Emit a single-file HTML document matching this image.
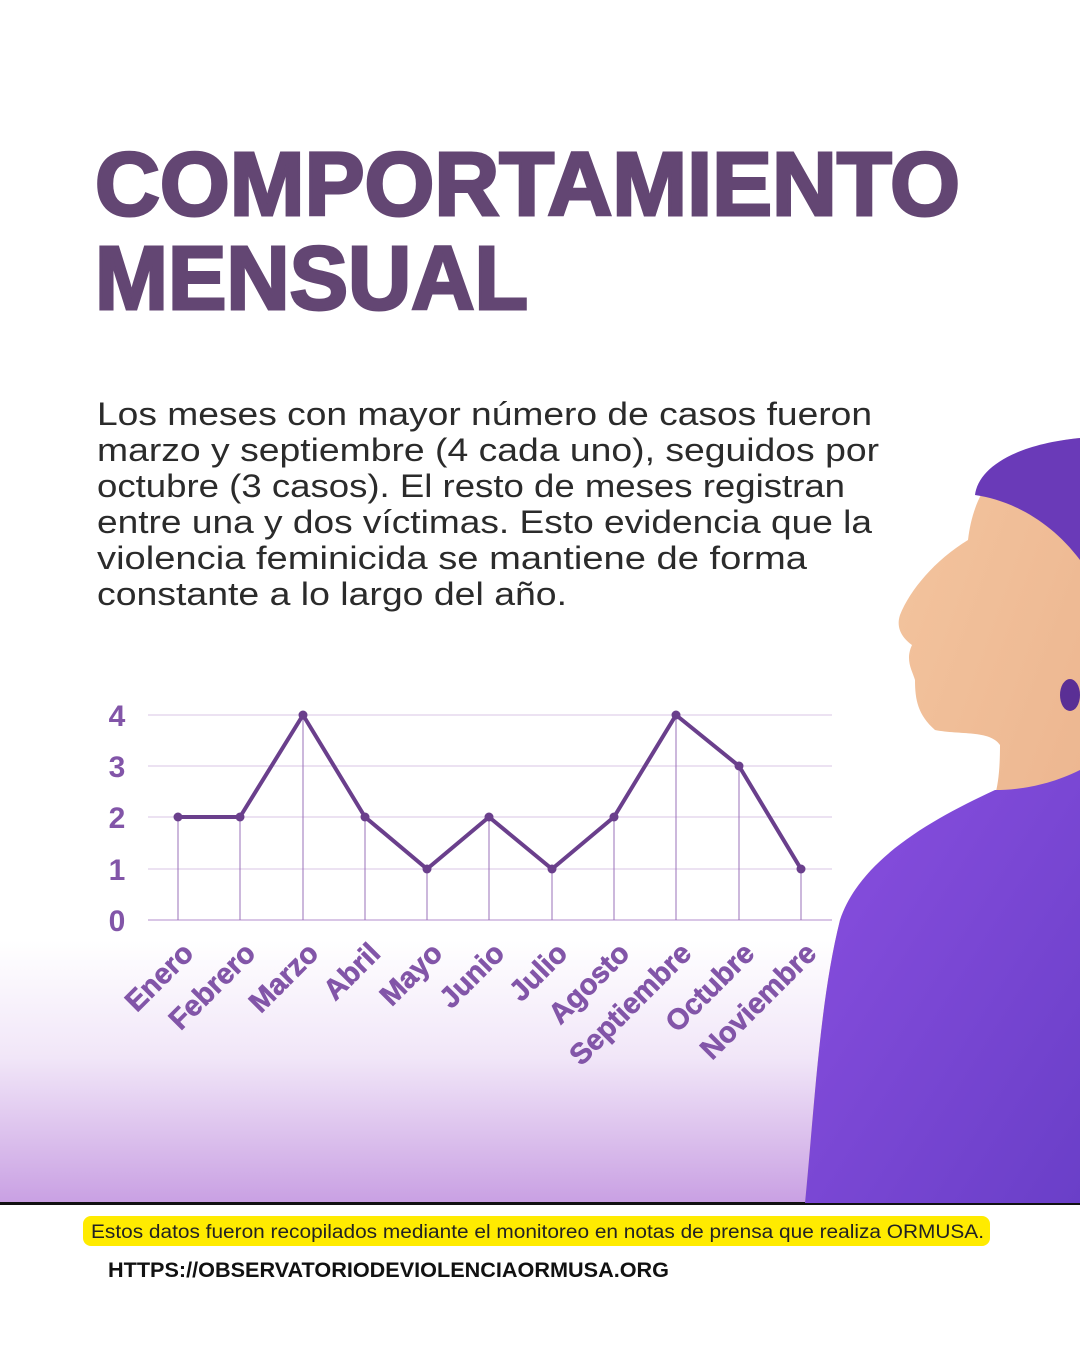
<!DOCTYPE html>
<html><head><meta charset="utf-8"><style>
html,body{margin:0;padding:0}
body{width:1080px;height:1350px;position:relative;overflow:hidden;background:#fff;font-family:"Liberation Sans",sans-serif}
.bg{position:absolute;left:0;top:940px;width:1080px;height:263px;background:linear-gradient(#fff 0%,#f1e6f8 45%,#c9a0e3 100%)}
.line{position:absolute;left:0;top:1202px;width:1080px;height:3px;background:#111}
.note{position:absolute;left:83px;top:1216px;width:907px;height:30px;background:#ffeb00;border-radius:8px}
svg{position:absolute;left:0;top:0}
</style></head><body>
<div class="bg"></div>
<div class="line"></div>
<div class="note"></div>
<svg width="1080" height="1350">
<defs>
<linearGradient id="sk" x1="0" y1="0" x2="1" y2="1"><stop offset="0" stop-color="#f6c9a3"/><stop offset="1" stop-color="#e9b08a"/></linearGradient>
<linearGradient id="pu" x1="0" y1="0" x2="1" y2="1"><stop offset="0" stop-color="#8a4fe0"/><stop offset="1" stop-color="#6a3fc8"/></linearGradient>
</defs>
<g font-family="Liberation Sans,sans-serif" font-weight="bold" fill="#634673" stroke="#634673" stroke-width="3">
<text x="95" y="215" font-size="90" textLength="865" lengthAdjust="spacingAndGlyphs">COMPORTAMIENTO</text>
<text x="95" y="309" font-size="90" textLength="433" lengthAdjust="spacingAndGlyphs">MENSUAL</text>
</g>
<g font-family="Liberation Sans,sans-serif" font-size="32" fill="#2b2b2b">
<text x="97" y="425" textLength="775" lengthAdjust="spacingAndGlyphs">Los meses con mayor número de casos fueron</text>
<text x="97" y="461" textLength="782" lengthAdjust="spacingAndGlyphs">marzo y septiembre (4 cada uno), seguidos por</text>
<text x="97" y="497" textLength="748" lengthAdjust="spacingAndGlyphs">octubre (3 casos). El resto de meses registran</text>
<text x="97" y="533" textLength="775" lengthAdjust="spacingAndGlyphs">entre una y dos víctimas. Esto evidencia que la</text>
<text x="97" y="569" textLength="710" lengthAdjust="spacingAndGlyphs">violencia feminicida se mantiene de forma</text>
<text x="97" y="605" textLength="470" lengthAdjust="spacingAndGlyphs">constante a lo largo del año.</text>
</g>
<!-- woman -->
<path d="M1080 438 C1010 445 975 480 968 540 C935 560 910 590 900 615 C895 630 905 640 912 645 C905 660 912 670 915 680 C915 700 918 715 935 730 C960 735 990 730 1000 745 C1000 770 998 785 995 795 C930 820 860 860 840 920 C820 1000 815 1100 805 1203 L1080 1203 Z" fill="url(#sk)"/>
<path d="M1080 438 C1010 445 978 470 975 495 C1010 500 1050 520 1080 560 Z" fill="#6a3ab8"/>
<path d="M995 790 C930 820 860 860 840 920 C820 1000 815 1100 805 1203 L1080 1203 L1080 770 C1050 785 1020 790 995 790 Z" fill="url(#pu)"/>
<ellipse cx="1070" cy="695" rx="10" ry="16" fill="#5a2f95"/>
<!-- chart -->
<g stroke="#e6d8ee" stroke-width="1.5">
<line x1="148" y1="715" x2="832" y2="715"/><line x1="148" y1="766" x2="832" y2="766"/>
<line x1="148" y1="817" x2="832" y2="817"/><line x1="148" y1="869" x2="832" y2="869"/>
</g>
<line x1="148" y1="920" x2="832" y2="920" stroke="#d9c6e6" stroke-width="2"/>
<g stroke="#9a70b8" stroke-width="1">
<line x1="178" y1="817" x2="178" y2="920"/><line x1="240" y1="817" x2="240" y2="920"/>
<line x1="303" y1="715" x2="303" y2="920"/><line x1="365" y1="817" x2="365" y2="920"/>
<line x1="427" y1="869" x2="427" y2="920"/><line x1="489" y1="817" x2="489" y2="920"/>
<line x1="552" y1="869" x2="552" y2="920"/><line x1="614" y1="817" x2="614" y2="920"/>
<line x1="676" y1="715" x2="676" y2="920"/><line x1="739" y1="766" x2="739" y2="920"/>
<line x1="801" y1="869" x2="801" y2="920"/>
</g>
<polyline points="178,817 240,817 303,715 365,817 427,869 489,817 552,869 614,817 676,715 739,766 801,869" fill="none" stroke="#6a3f8c" stroke-width="4" stroke-linejoin="round"/>
<g fill="#6a3f8c">
<circle cx="178" cy="817" r="4.5"/><circle cx="240" cy="817" r="4.5"/><circle cx="303" cy="715" r="4.5"/><circle cx="365" cy="817" r="4.5"/><circle cx="427" cy="869" r="4.5"/><circle cx="489" cy="817" r="4.5"/><circle cx="552" cy="869" r="4.5"/><circle cx="614" cy="817" r="4.5"/><circle cx="676" cy="715" r="4.5"/><circle cx="739" cy="766" r="4.5"/><circle cx="801" cy="869" r="4.5"/>
</g>
<g font-family="Liberation Sans,sans-serif" font-weight="bold" font-size="30" fill="#8255a8" text-anchor="middle">
<text x="117" y="726">4</text><text x="117" y="777">3</text><text x="117" y="828">2</text><text x="117" y="880">1</text><text x="117" y="931">0</text>
</g>
<g font-family="Liberation Sans,sans-serif" font-weight="bold" font-size="29" fill="#8255a8" text-anchor="end" stroke="#8255a8" stroke-width="0.6">
<text transform="translate(195,955) rotate(-45)">Enero</text>
<text transform="translate(257,955) rotate(-45)">Febrero</text>
<text transform="translate(320,955) rotate(-45)">Marzo</text>
<text transform="translate(382,955) rotate(-45)">Abril</text>
<text transform="translate(444,955) rotate(-45)">Mayo</text>
<text transform="translate(506,955) rotate(-45)">Junio</text>
<text transform="translate(569,955) rotate(-45)">Julio</text>
<text transform="translate(631,955) rotate(-45)">Agosto</text>
<text transform="translate(693,955) rotate(-45)">Septiembre</text>
<text transform="translate(756,955) rotate(-45)">Octubre</text>
<text transform="translate(818,955) rotate(-45)">Noviembre</text>
</g>
<text x="91" y="1238" font-family="Liberation Sans,sans-serif" font-size="19" fill="#222" textLength="893" lengthAdjust="spacingAndGlyphs">Estos datos fueron recopilados mediante el monitoreo en notas de prensa que realiza ORMUSA.</text>
<text x="108" y="1277" font-family="Liberation Sans,sans-serif" font-size="21" font-weight="bold" fill="#111" textLength="561" lengthAdjust="spacingAndGlyphs">HTTPS://OBSERVATORIODEVIOLENCIAORMUSA.ORG</text>
</svg>
</body></html>
